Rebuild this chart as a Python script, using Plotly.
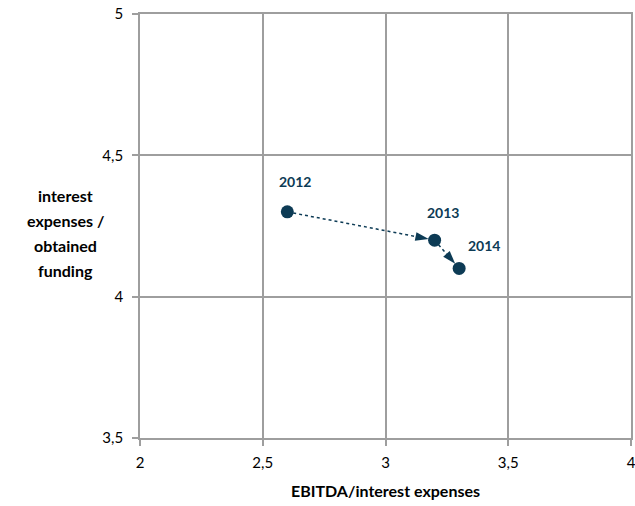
import plotly.graph_objects as go

years = ["2012", "2013", "2014"]
ebitda_interest = [2.6, 3.2, 3.3]
interest_funding = [4.3, 4.2, 4.1]

x_ticks = [2, 2.5, 3, 3.5, 4]
y_ticks = [3.5, 4, 4.5, 5]

color = "#0d3b55"
grid = "#9e9e9e"
font_family = "Lato, 'Open Sans', sans-serif"

fig = go.Figure()

# dotted connecting line with arrowheads
fig.add_trace(go.Scatter(
    x=ebitda_interest, y=interest_funding, mode="lines+markers",
    line=dict(color=color, width=1.5, dash="dot"),
    marker=dict(symbol="arrow", angleref="previous", size=14, standoff=6, color=color),
    hoverinfo="skip", showlegend=False,
))
# points
fig.add_trace(go.Scatter(
    x=ebitda_interest, y=interest_funding, mode="markers",
    marker=dict(symbol="circle", size=13, color=color),
    showlegend=False,
))

label_shifts = [(8, 30), (8, 28), (25, 23)]
for yr, xv, yv, (dx, dy) in zip(years, ebitda_interest, interest_funding, label_shifts):
    fig.add_annotation(x=xv, y=yv, text="<b>" + yr + "</b>", showarrow=False,
                       xshift=dx, yshift=dy,
                       font=dict(family=font_family, size=14, color=color))

ytitle_lines = ["interest", "expenses /", "obtained", "funding"]
for i, line in enumerate(ytitle_lines):
    fig.add_annotation(x=-0.152, y=0.572 - i * 0.059, xref="paper", yref="paper",
                       text="<b>" + line + "</b>", showarrow=False,
                       xanchor="center", yanchor="middle",
                       font=dict(family=font_family, size=16, color="#000000"))

fig.update_layout(
    width=635, height=506,
    margin=dict(l=140, r=4, t=14, b=68, autoexpand=False),
    paper_bgcolor="white", plot_bgcolor="white",
    separators=",.",
    font=dict(family=font_family, size=15, color="#000000"),
    xaxis=dict(
        range=[1.9999, 4.0001], tickvals=x_ticks, showgrid=True, gridcolor=grid, gridwidth=1.8,
        showline=True, linecolor=grid, linewidth=1.8, mirror=True,
        ticks="outside", ticklen=6, tickcolor=grid, tickwidth=1.8,
        zeroline=False, ticklabelstandoff=4, ticklabeloverflow="allow", automargin=False,
        title=dict(text="<b>EBITDA/interest expenses</b>", font=dict(size=16), standoff=16),
        tickfont=dict(size=15),
    ),
    yaxis=dict(
        range=[3.4999, 5.0001], tickvals=y_ticks, showgrid=True, gridcolor=grid, gridwidth=1.8,
        showline=True, linecolor=grid, linewidth=1.8, mirror=True,
        ticks="outside", ticklen=6, tickcolor=grid, tickwidth=1.8,
        zeroline=False, tickfont=dict(size=15), ticklabelstandoff=6,
        ticklabeloverflow="allow", automargin=False,
    ),
)

fig.write_html("out.html")
